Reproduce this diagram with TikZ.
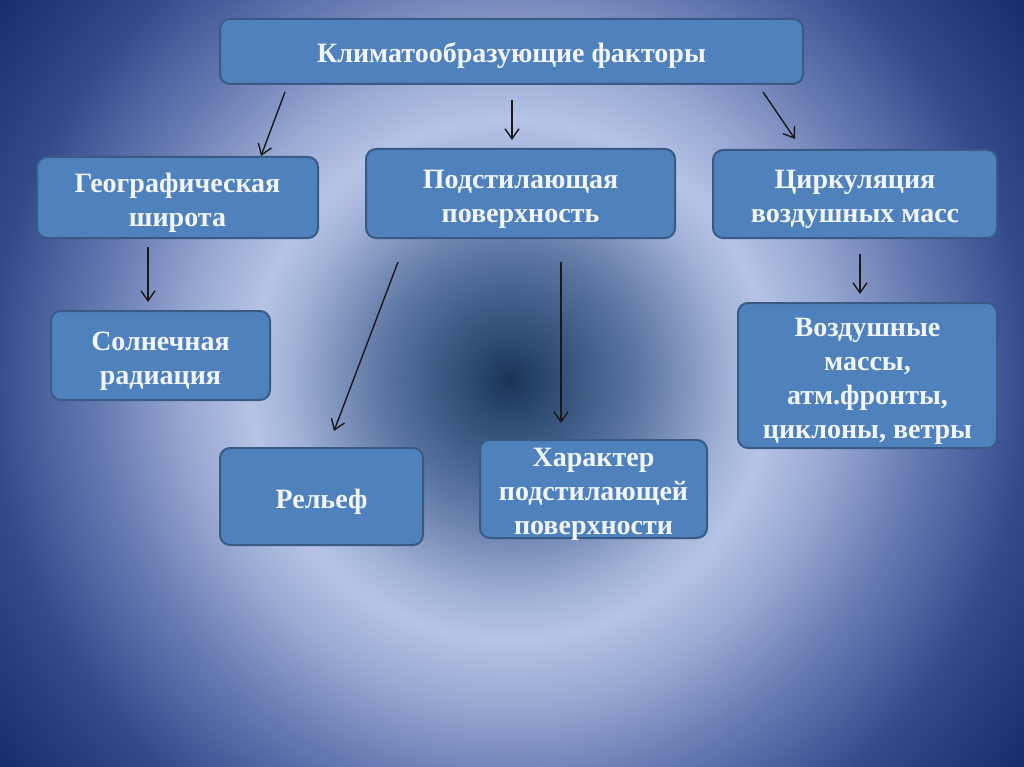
\documentclass[tikz,border=0pt]{standalone}
\usepackage{fontspec}
\setmainfont{Liberation Serif}
\usetikzlibrary{arrows.meta}

\definecolor{boxfill}{HTML}{4F81BD}
\definecolor{boxline}{HTML}{3A5A86}
\definecolor{boxtext}{HTML}{F2F5FC}
\definecolor{bgA}{HTML}{1B3358}
\definecolor{bgB}{HTML}{2C4A72}
\definecolor{bgC}{HTML}{5D76A3}
\definecolor{bgD}{HTML}{A3B3D8}
\definecolor{bgE}{HTML}{B6C3E6}
\definecolor{bgF}{HTML}{99A8D2}
\definecolor{bgG}{HTML}{6478B0}
\definecolor{bgH}{HTML}{34498C}
\definecolor{bgI}{HTML}{152A6C}
% stops: 25bp = radius of the shaded circle
\pgfdeclareradialshading{slidebg}{\pgfpointorigin}{%
  color(0bp)=(bgA); color(1.5bp)=(bgB); color(5bp)=(bgC);
  color(8.5bp)=(bgD); color(10bp)=(bgE); color(12.5bp)=(bgF);
  color(16bp)=(bgG); color(20bp)=(bgH); color(25bp)=(bgI)}
% extra room above the first line, so the text sits a little low
\newcommand{\factorgap}{\rule{0pt}{29pt}}

\begin{document}
\begin{tikzpicture}[
  x=1pt, y=-1pt,
  font=\fontsize{28}{34}\selectfont\bfseries,
  factor/.style={draw=boxline, line width=2pt, fill=boxfill,
    rounded corners=10pt, text=boxtext, align=center, inner sep=0pt},
  arr/.style={-{Straight Barb[length=10pt,width=14pt]}, line width=1.4pt,
    black!90},
]
\useasboundingbox (0,0) rectangle (1024,767);
% Background
\begin{scope}
  \clip (0,0) rectangle (1024,767);
  \shade[shading=slidebg] (510,380) circle[radius=650];
\end{scope}

% Factors
\node[factor, minimum width=583pt, minimum height=65pt] (top) at (511.5,51.5)
  {\factorgap Климатообразующие факторы};
\node[factor, minimum width=281pt, minimum height=81pt] (lat) at (177.5,197.5)
  {\factorgap Географическая\\широта};
\node[factor, minimum width=309pt, minimum height=89pt] (surf) at (520.5,193.5)
  {\factorgap Подстилающая\\поверхность};
\node[factor, minimum width=284pt, minimum height=88pt] (circ) at (855,194)
  {\factorgap Циркуляция\\воздушных масс};

% Consequences
\node[factor, minimum width=219pt, minimum height=89pt] (sun) at (160.5,355.5)
  {\factorgap Солнечная\\радиация};
\node[factor, minimum width=203pt, minimum height=97pt] (relief) at (321.5,496.5)
  {\factorgap Рельеф};
\node[factor, minimum width=227pt, minimum height=98pt, inner ysep=-3pt]
  (kind) at (593.5,489)
  {\factorgap Характер\\подстилающей\\поверхности};
\node[factor, minimum width=259pt, minimum height=145pt] (air) at (867.5,375.5)
  {\factorgap Воздушные\\массы,\\атм.фронты,\\циклоны, ветры};

% Arrow ends
\coordinate (t1) at (285,92);  \coordinate (h1) at (261,156);
\coordinate (t2) at (512,100); \coordinate (h2) at (512,140);
\coordinate (t3) at (763,92);  \coordinate (h3) at (795,139);
\coordinate (t4) at (148,247); \coordinate (h4) at (148,302);
\coordinate (t5) at (398,262); \coordinate (h5) at (334,431);
\coordinate (t6) at (561,262); \coordinate (h6) at (561,423);
\coordinate (t7) at (860,254); \coordinate (h7) at (860,294);

\foreach \i in {1,...,7}
  \draw[arr] (t\i) -- (h\i);
\end{tikzpicture}
\end{document}
